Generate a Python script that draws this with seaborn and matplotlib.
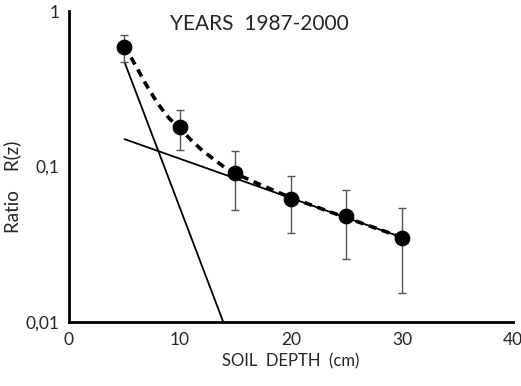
#!/usr/bin/env python3
"""Ratio R(z) versus soil depth, years 1987-2000 (log scale)."""
import numpy as np
import pandas as pd
import matplotlib
matplotlib.use('Agg')
import matplotlib.pyplot as plt
from matplotlib.ticker import FixedLocator, NullLocator
import seaborn as sns

# measured ratios with error bar ends
depth = [5, 10, 15, 20, 25, 30]
ratio = [0.585, 0.18, 0.091, 0.062, 0.048, 0.0345]
err_hi = [0.70, 0.231, 0.126, 0.087, 0.0706, 0.054]
err_lo = [0.472, 0.128, 0.0525, 0.0375, 0.0254, 0.0154]

# fitted components (straight lines on log scale)
fast_x = [5, 13.9]
fast_y = [0.47, 0.01]
slow_x = [5, 30]
slow_y = [0.15, 0.035]

# sum of both components (dashed curve)
fit_x = [5, 6, 7, 8, 9, 10, 11, 12, 13, 14, 15, 17.5, 20, 25, 30]
fit_y = [0.60, 0.446, 0.331, 0.254, 0.205, 0.175, 0.148, 0.127, 0.112,
         0.099, 0.090, 0.075, 0.063, 0.0468, 0.035]

x_ticks = [0, 10, 20, 30, 40]
y_ticks = [0.01, 0.1, 1]
y_ticklabels = ['0,01', '0,1', '1']

sns.set_style('white')
plt.rcParams['font.family'] = ['Lato', 'DejaVu Sans']

fig = plt.figure(figsize=(5.21, 3.86), dpi=100)
ax = fig.add_axes([0.1324, 0.1658, 0.8522, 0.8057])

sns.lineplot(x=fast_x, y=fast_y, ax=ax, color='black', linewidth=1.3)
sns.lineplot(x=slow_x, y=slow_y, ax=ax, color='black', linewidth=1.3)
sns.lineplot(x=fit_x, y=fit_y, ax=ax, color='black', linewidth=2.6,
             linestyle=(0, (2.2, 1.6)))

ratio_arr = np.array(ratio)
yerr = np.vstack([ratio_arr - np.array(err_lo), np.array(err_hi) - ratio_arr])
ax.errorbar(depth, ratio, yerr=yerr, fmt='none', ecolor='#555555',
            elinewidth=1.0, capsize=3, capthick=1.0, zorder=3)
pts = pd.DataFrame({'depth': depth, 'ratio': ratio})
sns.scatterplot(data=pts, x='depth', y='ratio', ax=ax, color='black',
                s=110, edgecolor='black', zorder=4)

ax.set_yscale('log')
ax.set_xlim(0, 40)
ax.set_ylim(0.01, 1)
ax.xaxis.set_major_locator(FixedLocator(x_ticks))
ax.yaxis.set_major_locator(FixedLocator(y_ticks))
ax.yaxis.set_minor_locator(NullLocator())
ax.set_yticklabels(y_ticklabels)

for side in ['top', 'right']:
    ax.spines[side].set_visible(False)
for side in ['left', 'bottom']:
    ax.spines[side].set_linewidth(2.0)
    ax.spines[side].set_color('black')

ax.tick_params(axis='x', direction='inout', length=7, width=1.6,
               labelsize=12.5, pad=4)
ax.tick_params(axis='y', direction='out', length=4, width=1.6,
               labelsize=12.5, pad=3)

ax.set_xlabel('SOIL  DEPTH  (cm)', fontsize=12)
ax.xaxis.set_label_coords(0.5, -0.1)
ax.set_ylabel('Ratio    R(z)', fontsize=13.5)
ax.yaxis.set_label_coords(-0.108, 0.434)

ax.text(0.428, 0.957, 'YEARS  1987-2000', transform=ax.transAxes,
        ha='center', va='center', fontsize=15)

fig.savefig('out.png', dpi=100)
